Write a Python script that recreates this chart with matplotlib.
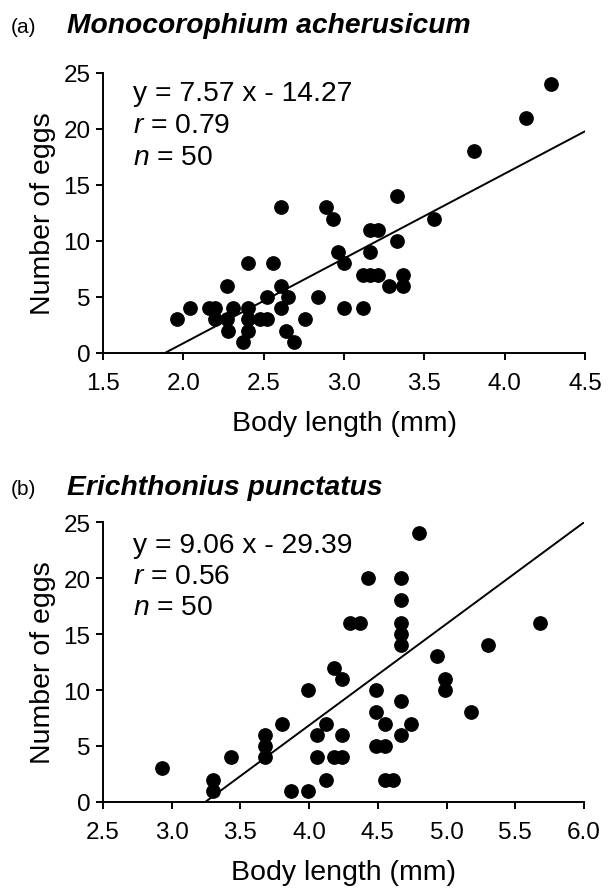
import numpy as np
import matplotlib
matplotlib.use('Agg')
import matplotlib.pyplot as plt
from matplotlib import font_manager

names = {f.name for f in font_manager.fontManager.ttflist}
base_font = 'Liberation Sans' if 'Liberation Sans' in names else 'DejaVu Sans'

plt.rcParams['font.family'] = [base_font, 'DejaVu Sans']
plt.rcParams['mathtext.fontset'] = 'custom'
plt.rcParams['mathtext.rm'] = base_font
plt.rcParams['mathtext.it'] = base_font + ':italic'

# (a) Monocorophium acherusicum
a_len = [1.96, 2.04, 2.16, 2.20, 2.20, 2.27, 2.31, 2.27, 2.28, 2.40,
         2.37, 2.40, 2.40, 2.40, 2.48, 2.52, 2.52, 2.56, 2.61, 2.61,
         2.61, 2.65, 2.64, 2.69, 2.76, 2.84, 2.89, 2.93, 2.96, 3.00,
         3.00, 3.12, 3.16, 3.21, 3.16, 3.12, 3.16, 3.21, 3.28, 3.33,
         3.33, 3.37, 3.37, 3.56, 3.81, 4.13, 4.29]
a_eggs = [3, 4, 4, 4, 3, 6, 4, 3, 2, 8,
          1, 4, 3, 2, 3, 3, 5, 8, 13, 6,
          4, 5, 2, 1, 3, 5, 13, 12, 9, 8,
          4, 4, 11, 11, 9, 7, 7, 7, 6, 14,
          10, 7, 6, 12, 18, 21, 24]
a_slope, a_icpt = 7.57, -14.27

# (b) Erichthonius punctatus
b_len = [2.93, 3.30, 3.30, 3.43, 3.68, 3.68, 3.68, 3.80, 3.87, 3.99,
         3.99, 4.06, 4.06, 4.12, 4.12, 4.18, 4.18, 4.24, 4.24, 4.24,
         4.30, 4.37, 4.43, 4.80, 4.67, 4.67, 4.67, 4.67, 4.67, 4.93,
         4.99, 4.99, 5.30, 5.68, 5.18, 4.49, 4.49, 4.55, 4.67, 4.74,
         4.67, 4.49, 4.55, 4.55, 4.61]
b_eggs = [3, 2, 1, 4, 6, 5, 4, 7, 1, 1,
          10, 6, 4, 7, 2, 12, 4, 11, 6, 4,
          16, 16, 20, 24, 20, 18, 16, 15, 14, 13,
          11, 10, 14, 16, 8, 10, 8, 7, 9, 7,
          6, 5, 5, 2, 2]
b_slope, b_icpt = 9.06, -29.39

panels = [
    dict(tag='(a)', name='Monocorophium acherusicum', x=a_len, y=a_eggs,
         m=a_slope, c=a_icpt, xlim=(1.5, 4.5), r='0.79', n='50',
         rect=[103 / 611, 1 - 354 / 895, 482 / 611, 280 / 895],
         title_y=1 - 33 / 895, text_y=[0.905, 0.790, 0.675]),
    dict(tag='(b)', name='Erichthonius punctatus', x=b_len, y=b_eggs,
         m=b_slope, c=b_icpt, xlim=(2.5, 6.0), r='0.56', n='50',
         rect=[103 / 611, 1 - 803 / 895, 481 / 611, 280 / 895],
         title_y=1 - 495 / 895, text_y=[0.893, 0.782, 0.671]),
]

fig = plt.figure(figsize=(6.11, 8.95), dpi=100)

for p in panels:
    ax = fig.add_axes(p['rect'])
    ax.plot(p['x'], p['y'], 'o', color='black', markersize=9.6, clip_on=False, zorder=3)

    # regression line from where it crosses zero to the right edge
    x0 = -p['c'] / p['m']
    xs = np.array([x0, p['xlim'][1]])
    ax.plot(xs, p['m'] * xs + p['c'], color='black', lw=1.4, zorder=2)

    ax.set_xlim(*p['xlim'])
    ax.set_ylim(0, 25)
    ax.set_xticks(np.arange(p['xlim'][0], p['xlim'][1] + 0.01, 0.5))
    ax.set_xticklabels([f'{v:.1f}' for v in ax.get_xticks()])
    ax.set_yticks(range(0, 26, 5))
    for s in ['top', 'right']:
        ax.spines[s].set_visible(False)
    for s in ['left', 'bottom']:
        ax.spines[s].set_linewidth(1.4)
    ax.tick_params(direction='out', length=5, width=1.4, labelsize=17.5)
    ax.tick_params(axis='x', pad=9)
    ax.tick_params(axis='y', pad=4)
    ax.set_xlabel('Body length (mm)', fontsize=20.5, labelpad=11)
    ax.set_ylabel('Number of eggs', fontsize=20.5, labelpad=5)

    sign = '-' if p['c'] < 0 else '+'
    eq = f"y = {p['m']:.2f} x {sign} {abs(p['c']):.2f}"
    ax.text(0.062, p['text_y'][0], eq, transform=ax.transAxes, fontsize=20.3)
    ax.text(0.062, p['text_y'][1], r'$\mathit{r}$' + f" = {p['r']}",
            transform=ax.transAxes, fontsize=20.3)
    ax.text(0.062, p['text_y'][2], r'$\mathit{n}$' + f" = {p['n']}",
            transform=ax.transAxes, fontsize=20.3)

    fig.text(11 / 611, p['title_y'], p['tag'], fontsize=15)
    fig.text(67 / 611, p['title_y'], p['name'], fontsize=20.3,
             fontweight='bold', fontstyle='italic')

fig.savefig('out.png', dpi=100)
